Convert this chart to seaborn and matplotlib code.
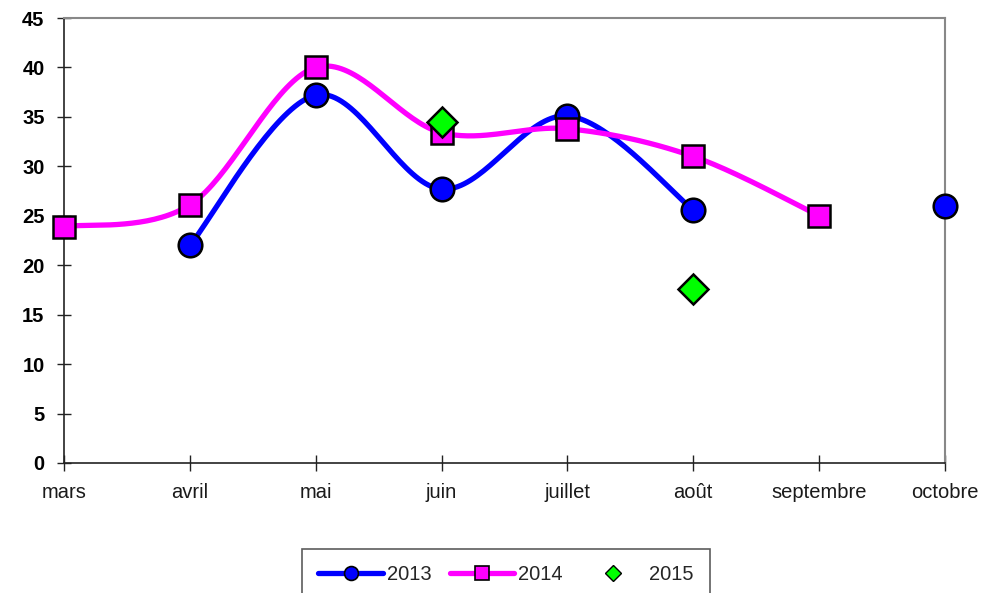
import numpy as np
import matplotlib
matplotlib.use("Agg")
import matplotlib.pyplot as plt
import seaborn as sns
from matplotlib.lines import Line2D

months = ["mars", "avril", "mai", "juin", "juillet", "août", "septembre", "octobre"]
y2013 = [np.nan, 22.0, 37.2, 27.7, 35.1, 25.6, np.nan, 26.0]
y2014 = [23.9, 26.1, 40.0, 33.4, 33.8, 31.0, 25.0, np.nan]
y2015 = [np.nan, np.nan, np.nan, 34.5, np.nan, 17.6, np.nan, np.nan]

sns.set_theme(style="white")
plt.rcParams['font.family'] = ['Liberation Sans', 'DejaVu Sans']


def smooth(xs, ys, n=40):
    # Excel-like smoothing: cubic bezier with catmull-rom control points
    # applied to each run of consecutive values
    xs = np.asarray(xs, float)
    ys = np.asarray(ys, float)
    runs, cur = [], []
    for i, v in enumerate(ys):
        if np.isnan(v):
            if cur:
                runs.append(cur)
            cur = []
        else:
            cur.append(i)
    if cur:
        runs.append(cur)
    out = []
    for r in runs:
        if len(r) < 2:
            continue
        P = np.column_stack([xs[r], ys[r]])
        px, py = [], []
        for k in range(len(P) - 1):
            p0 = P[k - 1] if k > 0 else P[k]
            p1, p2 = P[k], P[k + 1]
            p3 = P[k + 2] if k + 2 < len(P) else P[k + 1]
            c1 = p1 + (p2 - p0) / 6
            c2 = p2 - (p3 - p1) / 6
            t = np.linspace(0, 1, n)[:, None]
            b = (1 - t) ** 3 * p1 + 3 * (1 - t) ** 2 * t * c1 + 3 * (1 - t) * t ** 2 * c2 + t ** 3 * p2
            px.extend(b[:, 0])
            py.extend(b[:, 1])
        out.append((np.array(px), np.array(py)))
    return out


fig = plt.figure(figsize=(9.99, 5.93), dpi=100)
ax = fig.add_axes([64 / 999, 1 - 463 / 593, (945 - 64) / 999, (463 - 18) / 593])

x = np.arange(len(months))
for ys, col in [(y2013, "#0000ff"), (y2014, "#ff00ff")]:
    for sx, sy in smooth(x, ys):
        ax.plot(sx, sy, color=col, lw=3.8, solid_capstyle="round", zorder=2)

sns.lineplot(x=x, y=y2013, ax=ax, marker="o", markersize=17, color="#0000ff",
             markeredgecolor="black", markeredgewidth=1.8, linestyle="none", zorder=3)
sns.lineplot(x=x, y=y2014, ax=ax, marker="s", markersize=16, color="#ff00ff",
             markeredgecolor="black", markeredgewidth=1.8, linestyle="none", zorder=4)
sns.lineplot(x=x, y=y2015, ax=ax, marker="D", markersize=15, color="#00ff00",
             markeredgecolor="black", markeredgewidth=1.8, linestyle="none", zorder=5)

ax.set_xlim(0, len(months) - 1)
ax.set_ylim(0, 45)
ax.set_xticks(x)
ax.set_xticklabels(months, fontsize=14.5, color="#1a1a1a")
ax.set_yticks(np.arange(0, 46, 5))
ax.set_yticklabels([str(v) for v in range(0, 46, 5)], fontsize=14.5,
                   fontweight="bold", color="black")
ax.tick_params(axis="y", direction="inout", length=10, width=1, color="#222222", pad=9, left=True)
ax.tick_params(axis="x", direction="inout", length=11, width=1, color="#222222", pad=9, bottom=True)
ax.margins(0)

for side in ["left", "bottom"]:
    ax.spines[side].set_color("#222222")
    ax.spines[side].set_linewidth(1.2)
for side in ["top", "right"]:
    ax.spines[side].set_color("#888888")
    ax.spines[side].set_linewidth(1.5)
for sp in ax.spines.values():
    sp.set_zorder(1)
ax.set_xlabel("")
ax.set_ylabel("")
for c in ax.collections + ax.lines:
    c.set_clip_on(False)

handles = [
    Line2D([], [], color="#0000ff", lw=3.8, marker="o", markersize=10,
           markeredgecolor="black", markeredgewidth=1.2),
    Line2D([], [], color="#ff00ff", lw=3.8, marker="s", markersize=10,
           markeredgecolor="black", markeredgewidth=1.2),
    Line2D([], [], color="none", marker="D", markersize=8, markerfacecolor="#00ff00",
           markeredgecolor="black", markeredgewidth=1.0),
]
leg = fig.legend(handles, ["2013", "2014", "2015"], loc="upper center",
                 bbox_to_anchor=(506 / 999, 1 - 549 / 593), ncol=3, fontsize=14.5,
                 frameon=True, fancybox=False, edgecolor="#333333",
                 handlelength=3.2, columnspacing=0.9, handletextpad=0.2,
                 borderpad=0.8, borderaxespad=0)
leg.get_frame().set_linewidth(1.2)

fig.savefig("out.png", dpi=100)
